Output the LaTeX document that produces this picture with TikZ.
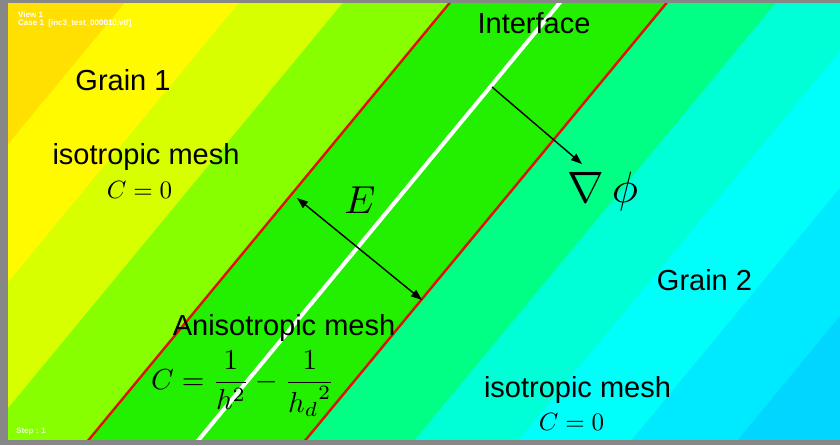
\documentclass[tikz,border=0pt]{standalone}
\usepackage[no-math]{fontspec}
\newfontfamily\arial{Liberation Sans}
\usetikzlibrary{arrows.meta}
\definecolor{frameGray}{HTML}{878787}
\definecolor{bandOrange}{HTML}{FFE000}
\definecolor{bandYellow}{HTML}{FFFA00}
\definecolor{bandYG}{HTML}{D8FF00}
\definecolor{bandChart}{HTML}{88FF00}
\definecolor{bandGreen}{HTML}{22F000}
\definecolor{bandSpring}{HTML}{00FF84}
\definecolor{bandAqua}{HTML}{00FFD6}
\definecolor{bandCyan}{HTML}{00FFFA}
\definecolor{bandLtBlue}{HTML}{00EAFF}
\definecolor{bandBlue}{HTML}{00D6FF}
\definecolor{lineRed}{HTML}{E01000}
\newcommand\bandfill[2]{\fill[#2] (-100,-10) -- ({#1+8.26},-10) -- ({#1-375.83},455) -- (-100,455) -- cycle;}
\newcommand\slantline[2]{\draw[#2] ({#1+8.26},-10) -- ({#1-375.83},455);}
\begin{document}
\begin{tikzpicture}[x=1pt,y=-1pt,
  sanslabel/.style={font=\arial\fontsize{29}{33}\selectfont, anchor=base, inner sep=0pt},
  mathlabel/.style={anchor=base, inner sep=0pt},
  tinylabel/.style={font=\arial\bfseries\fontsize{8}{9}\selectfont, text=white, anchor=base west, inner sep=0pt},
  redstyle/.style={draw=lineRed, line width=2.4pt},
  whitestyle/.style={draw=white, line width=4pt},
  onearrow/.style={draw=black, line width=1.4pt, -{Triangle[length=11pt,width=8pt]}},
  twoarrow/.style={draw=black, line width=1.4pt, {Triangle[length=11pt,width=8pt]}-{Triangle[length=11pt,width=8pt]}}
  ]
\useasboundingbox (0,0) rectangle (840,445);
\fill[frameGray] (0,0) rectangle (840,445);
\begin{scope}
  \clip (8,3) rectangle (840,439);
  \fill[bandBlue] (0,0) rectangle (840,445);
  \bandfill{1101}{bandLtBlue}
  \bandfill{995}{bandCyan}
  \bandfill{882}{bandAqua}
  \bandfill{778}{bandSpring}
  \bandfill{669}{bandGreen}
  \bandfill{452}{bandChart}
  \bandfill{345}{bandYG}
  \bandfill{241}{bandYellow}
  \bandfill{127}{bandOrange}
  \slantline{452}{redstyle}
  \slantline{669}{redstyle}
  \slantline{562}{whitestyle}
\end{scope}

\node[tinylabel] (view) at (18,17) {View 1};
\node[tinylabel] (case) at (18,25) {Case 1\ \ [inc3\_test\_000010.vtf]};
\node[tinylabel, text opacity=0.8] (step) at (16,433) {Step : 1};

\coordinate (eA) at (297,198);
\coordinate (eB) at (422,300);
\draw[twoarrow] (eA) -- (eB);
\coordinate (gA) at (492,87);
\coordinate (gB) at (582,164);
\draw[onearrow] (gA) -- (gB);

\node[sanslabel] (grain1) at (123,90) {Grain 1};
\node[sanslabel] (iso1) at (146,164) {isotropic mesh};
\node[mathlabel, scale=2.5] (c1) at (139.5,198) {$C=0$};
\node[sanslabel] (iface) at (534,33) {Interface};
\node[mathlabel, scale=3.9] (evar) at (360,213) {$E$};
\node[mathlabel, scale=4.4] (grad) at (603,202) {$\nabla\,\phi$};
\node[sanslabel] (grain2) at (704.5,290) {Grain 2};
\node[sanslabel] (aniso) at (284,335) {Anisotropic mesh};
\node[mathlabel, scale=2.9] (form) at (243,389.5) {$\displaystyle C=\frac{1}{h^2}-\frac{1}{{h_d}^2}$};
\node[sanslabel] (iso2) at (577.5,397) {isotropic mesh};
\node[mathlabel, scale=2.5] (c2) at (571.5,430) {$C=0$};
\end{tikzpicture}
\end{document}
